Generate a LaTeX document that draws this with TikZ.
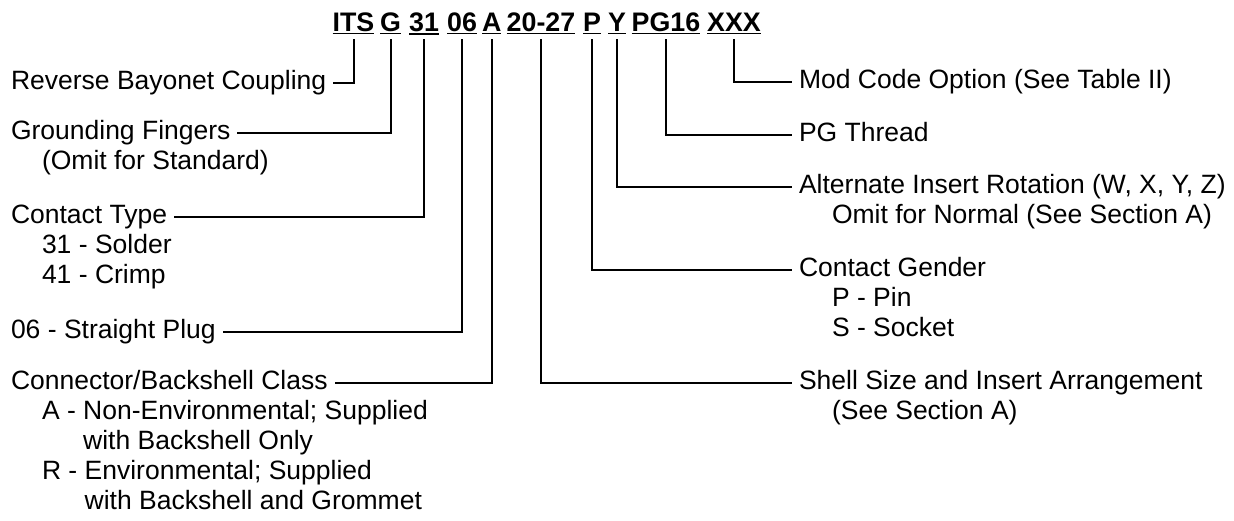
\documentclass[tikz,border=0pt]{standalone}
\usepackage{fontspec}
\setmainfont{Liberation Sans}
\usepackage{tikz}

\newcommand{\ulword}[1]{\vtop{\hbox{#1}\kern0.9pt\hrule height0.7pt}}

\begin{document}
\begin{tikzpicture}[x=0.5pt,y=-0.5pt,line width=1pt]
    \tikzstyle{code}=[anchor=base, inner sep=0pt, font=\fontsize{13.4}{15}\selectfont\bfseries]
    \tikzstyle{desc}=[anchor=west, inner xsep=3pt, inner ysep=0pt, text height=9.9pt, text depth=3.3pt, font=\fontsize{13.25}{15}\selectfont]
    \useasboundingbox (0,0) rectangle (1234,520);
    % part number
    \node[code] (its) at (353.5,31) {\ulword{ITS}};
    \node[code] (g) at (390.5,31) {\ulword{G}};
    \node[code] (c31) at (424,31) {\ulword{31}};
    \node[code] (c06) at (462,31) {\ulword{06}};
    \node[code] (a) at (491.7,31) {\ulword{A}};
    \node[code] (n2027) at (541,31) {\ulword{20-27}};
    \node[code] (p) at (592,31) {\ulword{P}};
    \node[code] (y) at (617,31) {\ulword{Y}};
    \node[code] (pg16) at (666,31) {\ulword{PG16}};
    \node[code] (xxx) at (734,31) {\ulword{XXX}};
    % left column
    \node[desc] (rev) at (4,82.5) {Reverse Bayonet Coupling};
    \node[desc] (grd) at (4,133) {Grounding Fingers};
    \node[desc] (grdnote) at (35,163) {(Omit for Standard)};
    \node[desc] (ctype) at (4,216.5) {Contact Type};
    \node[desc] (solder) at (35,246.5) {31 - Solder};
    \node[desc] (crimp) at (35,276.5) {41 - Crimp};
    \node[desc] (plug) at (4,331.5) {06 - Straight Plug};
    \node[desc] (cls) at (4,382.5) {Connector/Backshell Class};
    \node[desc] (clsa) at (35,412.5) {A - Non-Environmental; Supplied};
    \node[desc] (clsa2) at (35,442.5) {\hphantom{A - }with Backshell Only};
    \node[desc] (clsr) at (35,472.5) {R - Environmental; Supplied};
    \node[desc] (clsr2) at (35,502.5) {\hphantom{R - }with Backshell and Grommet};
    % right column
    \node[desc] (mod) at (792,82) {Mod Code Option (See Table II)};
    \node[desc] (pgt) at (792,134.5) {PG Thread};
    \node[desc] (alt) at (792,187) {Alternate Insert Rotation (W, X, Y, Z)};
    \node[desc] (altnote) at (825,217) {Omit for Normal (See Section A)};
    \node[desc] (gen) at (792,270) {Contact Gender};
    \node[desc] (pin) at (825,300) {P - Pin};
    \node[desc] (sock) at (825,330) {S - Socket};
    \node[desc] (shell) at (792,383) {Shell Size and Insert Arrangement};
    \node[desc] (shellnote) at (825,413) {(See Section A)};
    % leaders
    \draw ([yshift=-4pt]its.base) |- (rev.east);
    \draw ([yshift=-4pt]g.base) |- (grd.east);
    \draw ([yshift=-4pt]c31.base) |- (ctype.east);
    \draw ([yshift=-4pt]c06.base) |- (plug.east);
    \draw ([yshift=-4pt]a.base) |- (cls.east);
    \draw ([yshift=-4pt]n2027.base) |- (shell.west);
    \draw ([yshift=-4pt]p.base) |- (gen.west);
    \draw ([yshift=-4pt]y.base) |- (alt.west);
    \draw ([yshift=-4pt]pg16.base) |- (pgt.west);
    \draw ([yshift=-4pt]xxx.base) |- (mod.west);
\end{tikzpicture}
\end{document}
